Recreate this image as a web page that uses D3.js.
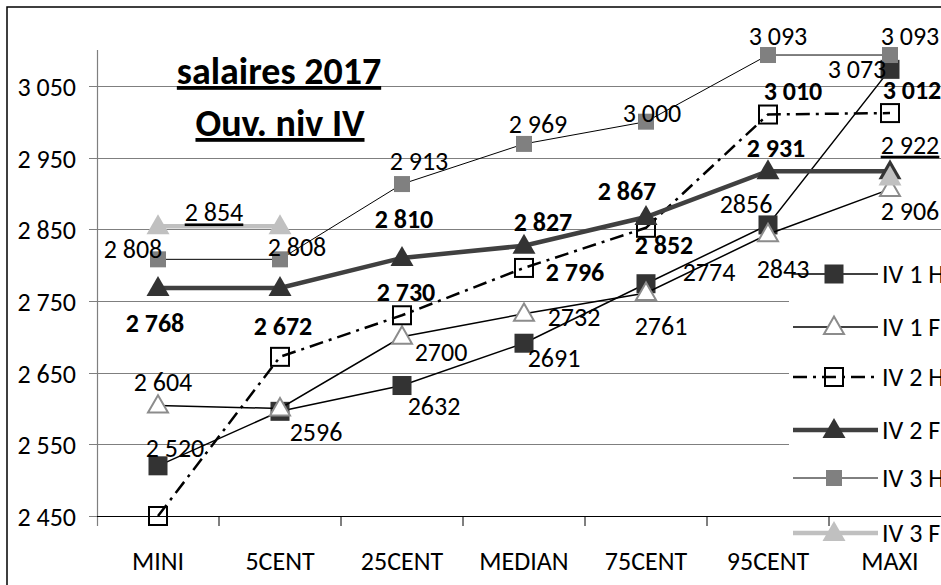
<!DOCTYPE html>
<html>
<head>
<meta charset="utf-8">
<script src="https://cdn.jsdelivr.net/npm/d3@7"></script>
<style>
  body { margin: 0; background: #fff; }
  svg { display: block; }
  text { font-family: Calibri, Carlito, "Open Sans", sans-serif; fill: #000; }
</style>
</head>
<body>
<svg id="chart" width="941" height="585"></svg>
<script>
// données
const categories = ["MINI", "5CENT", "25CENT", "MEDIAN", "75CENT", "95CENT", "MAXI"];
const yTicks = [2450, 2550, 2650, 2750, 2850, 2950, 3050];
const seriesNames = ["IV 1 H", "IV 1 F", "IV 2 H", "IV 2 F", "IV 3 H", "IV 3 F"];

const iv1H = [2520, 2596, 2632, 2691, 2774, 2856, 3073];
const iv1F = [2604, 2600, 2700, 2732, 2761, 2843, 2906];
const iv2H = [2450, 2672, 2730, 2796, 2852, 3010, 3012];
const iv2F = [2768, 2768, 2810, 2827, 2867, 2931, 2931];
const iv3H = [2808, 2808, 2913, 2969, 3000, 3093, 3093];
const iv3F = [2854, 2854, null, null, null, null, 2922];

const iv1HLabels = ["2 520", "2596", "2632", "2691", "2774", "2856", "3 073"];
const iv1FLabels = ["2 604", null, "2700", "2732", "2761", "2843", "2 906"];
const iv2HLabels = [null, "2 672", "2 730", "2 796", "2 852", "3 010", "3 012"];
const iv2FLabels = ["2 768", null, "2 810", "2 827", "2 867", "2 931", null];
const iv3HLabels = ["2 808", "2 808", "2 913", "2 969", "3 000", "3 093", "3 093"];
const iv3FLabels = ["2 854", null, null, null, null, null, "2 922"];

// placement des étiquettes (décalage du centre par rapport au marqueur)
const pos1H = [[17, -18], [36, 21], [32, 20], [30, 15], [63, -12], [-22, -21], [-33, 0]];
const pos1F = [[5, -24], null, [39, 15], [50, 3], [15, 33], [15, 35], [20, 22]];
const pos2H = [null, [3, -31], [4, -23], [51, 4], [18, 17], [25, -24], [22, -23]];
const pos2F = [[-3, 35], null, [2, -39], [19, -24], [-19, -26], [8, -23], null];
const pos3H = [[-25, -10], [17, -12], [17, -23], [14, -20], [6, -9], [10, -19], [20, -19]];
const pos3F = [[56, -14], null, null, null, null, null, [20, -33]];

const series = [
    { nom: seriesNames[0], val: iv1H, lab: iv1HLabels, pos: pos1H, stroke: "#000", width: 1.5, dash: null,
      marker: "square", size: 19, fill: "#333333", mstroke: "none", bold: false, under: false },
    { nom: seriesNames[1], val: iv1F, lab: iv1FLabels, pos: pos1F, stroke: "#000", width: 1.5, dash: null,
      marker: "triangle", size: 20, fill: "#fff", mstroke: "#8c8c8c", bold: false, under: false },
    { nom: seriesNames[2], val: iv2H, lab: iv2HLabels, pos: pos2H, stroke: "#000", width: 2.5, dash: "14,6,3,6",
      marker: "square", size: 18, fill: "none", mstroke: "#000", bold: true, under: false },
    { nom: seriesNames[3], val: iv2F, lab: iv2FLabels, pos: pos2F, stroke: "#404040", width: 4.5, dash: null,
      marker: "triangle", size: 23, fill: "#333333", mstroke: "none", bold: true, under: false },
    { nom: seriesNames[4], val: iv3H, lab: iv3HLabels, pos: pos3H, stroke: "#000", width: 1, dash: null,
      marker: "square", size: 16, fill: "#808080", mstroke: "none", bold: false, under: false },
    { nom: seriesNames[5], val: iv3F, lab: iv3FLabels, pos: pos3F, stroke: "#c0c0c0", width: 4.5, dash: null,
      marker: "triangle", size: 23, fill: "#c0c0c0", mstroke: "none", bold: false, under: true }
];

const svg = d3.select("#chart");
const fontSize = 26;

const plotLeft = 97, plotRight = 951, plotTop = 50, plotBottom = 516;

const x = d3.scaleBand().domain(categories).range([plotLeft, plotRight]);
const cx = (i) => x(categories[i]) + x.bandwidth() / 2;
const y = d3.scaleLinear().domain([2450, 3100]).range([plotBottom, plotTop]);

const fmt = (v) => d3.format(",")(v).replace(",", " ");

// bordure du graphique
svg.append("rect")
    .attr("x", 7).attr("y", 7).attr("width", 1000).attr("height", 1000)
    .style("fill", "#fff").style("stroke", "#000").style("stroke-width", 1.5);

// quadrillage
svg.append("g").selectAll("line").data(yTicks).enter().append("line")
    .attr("x1", plotLeft - 8).attr("x2", 941)
    .attr("y1", (d) => Math.round(y(d)) + 0.5).attr("y2", (d) => Math.round(y(d)) + 0.5)
    .style("stroke", "#7f7f7f").style("stroke-width", 1);

// axe vertical
svg.append("line")
    .attr("x1", plotLeft + 0.5).attr("x2", plotLeft + 0.5)
    .attr("y1", plotTop).attr("y2", plotBottom + 10)
    .style("stroke", "#7f7f7f").style("stroke-width", 1.2);

svg.append("g").selectAll("text").data(yTicks).enter().append("text")
    .attr("x", 76).attr("y", (d) => y(d) + 1)
    .attr("dy", "0.35em")
    .attr("text-anchor", "end")
    .style("font-size", fontSize + "px")
    .text(fmt);

// titre
const titre = svg.append("g");
titre.append("text").attr("x", 279).attr("y", 84).attr("text-anchor", "middle")
    .style("font-size", "38px").style("font-weight", "bold").style("text-decoration", "underline")
    .text("salaires 2017");
titre.append("text").attr("x", 280).attr("y", 136).attr("text-anchor", "middle")
    .style("font-size", "38px").style("font-weight", "bold").style("text-decoration", "underline")
    .text("Ouv. niv IV");

function marqueur(sel, s) {
    if (s.marker === "square") {
        sel.append("rect")
            .attr("x", -s.size / 2).attr("y", -s.size / 2)
            .attr("width", s.size).attr("height", s.size);
    } else {
        const h = s.size * 0.87;
        sel.append("path")
            .attr("d", `M0,${-h * 0.6}L${s.size / 2},${h * 0.4}L${-s.size / 2},${h * 0.4}Z`);
    }
    sel.selectAll("rect,path")
        .style("fill", s.fill)
        .style("stroke", s.mstroke)
        .style("stroke-width", s.mstroke === "none" ? 0 : 2);
}

const courbe = d3.line()
    .defined((d) => d !== null)
    .x((d, i) => cx(i))
    .y((d) => y(d));

// séries
series.forEach((s) => {
    const g = svg.append("g").attr("class", "serie");
    g.append("path")
        .attr("d", courbe(s.val))
        .style("fill", "none")
        .style("stroke", s.stroke)
        .style("stroke-width", s.width)
        .style("stroke-dasharray", s.dash);

    s.val.forEach((v, i) => {
        if (v === null) return;
        const m = g.append("g").attr("transform", `translate(${cx(i)}, ${y(v)})`);
        marqueur(m, s);
    });
});

// légende
svg.append("rect")
    .attr("x", 789).attr("y", 248).attr("width", 160).attr("height", 340)
    .style("fill", "#fff");

// axe horizontal
svg.append("line")
    .attr("x1", plotLeft).attr("x2", 941)
    .attr("y1", plotBottom + 0.5).attr("y2", plotBottom + 0.5)
    .style("stroke", "#000").style("stroke-width", 1.2);

svg.append("g").selectAll("line").data(categories).enter().append("line")
    .attr("x1", (d) => x(d) + x.bandwidth()).attr("x2", (d) => x(d) + x.bandwidth())
    .attr("y1", plotBottom).attr("y2", plotBottom + 10)
    .style("stroke", "#000").style("stroke-width", 1);

svg.append("g").selectAll("text").data(categories).enter().append("text")
    .attr("x", (d, i) => cx(i)).attr("y", 570)
    .attr("text-anchor", "middle")
    .style("font-size", fontSize + "px")
    .text((d) => d);

const legY = [274, 327, 377, 430, 478, 533];
series.forEach((s, k) => {
    const g = svg.append("g").attr("transform", `translate(0, ${legY[k]})`);
    g.append("line")
        .attr("x1", 793).attr("x2", 878).attr("y1", 0).attr("y2", 0)
        .style("stroke", s.stroke)
        .style("stroke-width", s.width)
        .style("stroke-dasharray", s.dash);
    const m = g.append("g").attr("transform", "translate(834, 0)");
    marqueur(m, s);
    g.append("text")
        .attr("x", 882).attr("y", 0).attr("dy", "0.35em")
        .style("font-size", fontSize + "px")
        .text(s.nom);
});

// étiquettes de données
series.forEach((s) => {
    s.val.forEach((v, i) => {
        if (v === null || s.lab[i] === null) return;
        svg.append("text")
            .attr("x", cx(i) + s.pos[i][0])
            .attr("y", y(v) + s.pos[i][1])
            .attr("dy", "0.35em")
            .attr("text-anchor", "middle")
            .style("font-size", fontSize + "px")
            .style("font-weight", s.bold ? "bold" : "normal")
            .style("text-decoration", s.under ? "underline" : "none")
            .text(s.lab[i]);
    });
});
</script>
</body>
</html>
